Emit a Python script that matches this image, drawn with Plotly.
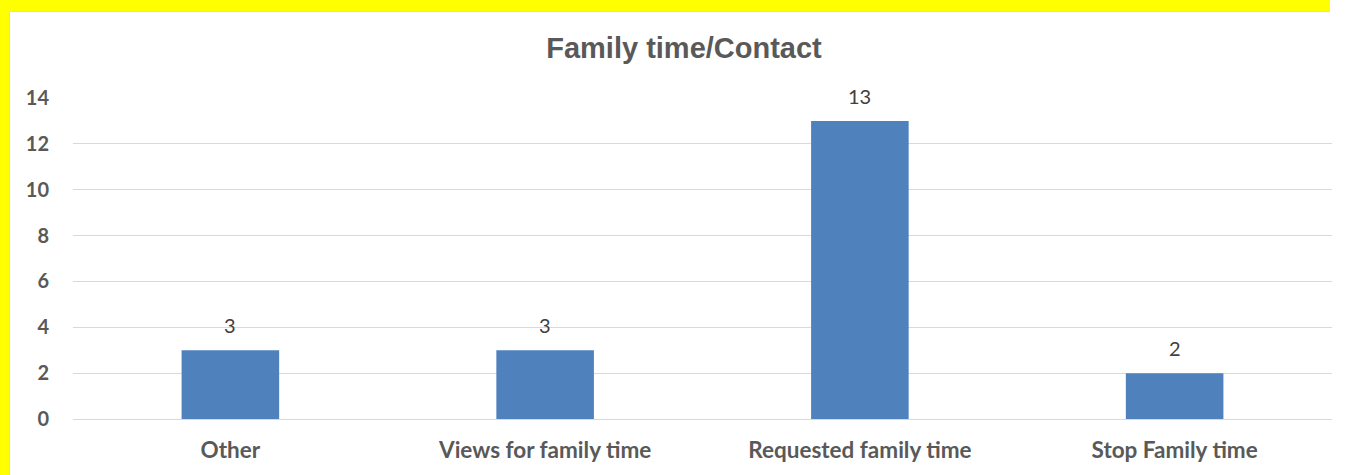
import plotly.graph_objects as go

categories = ["Other", "Views for family time", "Requested family time", "Stop Family time"]
values = [3, 3, 13, 2]
y_ticks = [0, 2, 4, 6, 8, 10, 12, 14]
title_text = "Family time/Contact"

W, H = 1349, 475
L, R, T, B = 73, 17, 98, 56
pw, ph = W - L - R, H - T - B

def px_x(p):
    return (p - L) / pw

def px_y(p):
    return (H - B - p) / ph

fig = go.Figure()
fig.add_trace(go.Bar(
    x=categories, y=values,
    marker=dict(color="#4F81BD", line=dict(width=0)),
    hoverinfo="x+y",
))

for c, v in zip(categories, values):
    fig.add_annotation(x=c, y=v, text=str(v), showarrow=False,
                       yanchor="bottom", yshift=11,
                       font=dict(family="Lato", size=20, color="#404040"))

# yellow frame strips (left and top) with a light grey edge, kept inside the page
fig.add_shape(type="rect", xref="paper", yref="paper",
              x0=px_x(0), x1=px_x(9), y0=px_y(0), y1=px_y(H),
              fillcolor="#FFFF00", line=dict(width=0), layer="below")
fig.add_shape(type="rect", xref="paper", yref="paper",
              x0=px_x(0), x1=px_x(1330), y0=px_y(0), y1=px_y(11),
              fillcolor="#FFFF00", line=dict(width=0), layer="below")
fig.add_shape(type="line", xref="paper", yref="paper",
              x0=px_x(9.5), x1=px_x(9.5), y0=px_y(11.5), y1=px_y(H),
              line=dict(color="#d9d9d9", width=1), layer="below")
fig.add_shape(type="line", xref="paper", yref="paper",
              x0=px_x(9.5), x1=px_x(1330), y0=px_y(11.5), y1=px_y(11.5),
              line=dict(color="#d9d9d9", width=1), layer="below")

fig.update_layout(
    width=W, height=H,
    margin=dict(l=L, r=R, t=T, b=B),
    paper_bgcolor="white",
    plot_bgcolor="white",
    bargap=0.69,
    showlegend=False,
    title=dict(text="<b>" + title_text + "</b>", x=684 / W, xref="container", xanchor="center",
               y=1 - 48 / H, yref="container", yanchor="middle",
               font=dict(family="Liberation Sans", size=29, color="#595959")),
    xaxis=dict(showgrid=False, showline=False, zeroline=False,
               tickfont=dict(family="Lato", size=22.5, color="#595959", weight="bold"),
               ticks="outside", ticklen=11, tickcolor="rgba(0,0,0,0)"),
    yaxis=dict(range=[0, 14], tickvals=y_ticks, showgrid=True, gridcolor="#d9d9d9", gridwidth=1,
               zeroline=True, zerolinecolor="#d9d9d9", zerolinewidth=1, showline=False,
               tickfont=dict(family="Lato", size=20, color="#595959", weight="bold"),
               ticks="outside", ticklen=19, tickcolor="rgba(0,0,0,0)"),
)

fig.write_html("out.html")
